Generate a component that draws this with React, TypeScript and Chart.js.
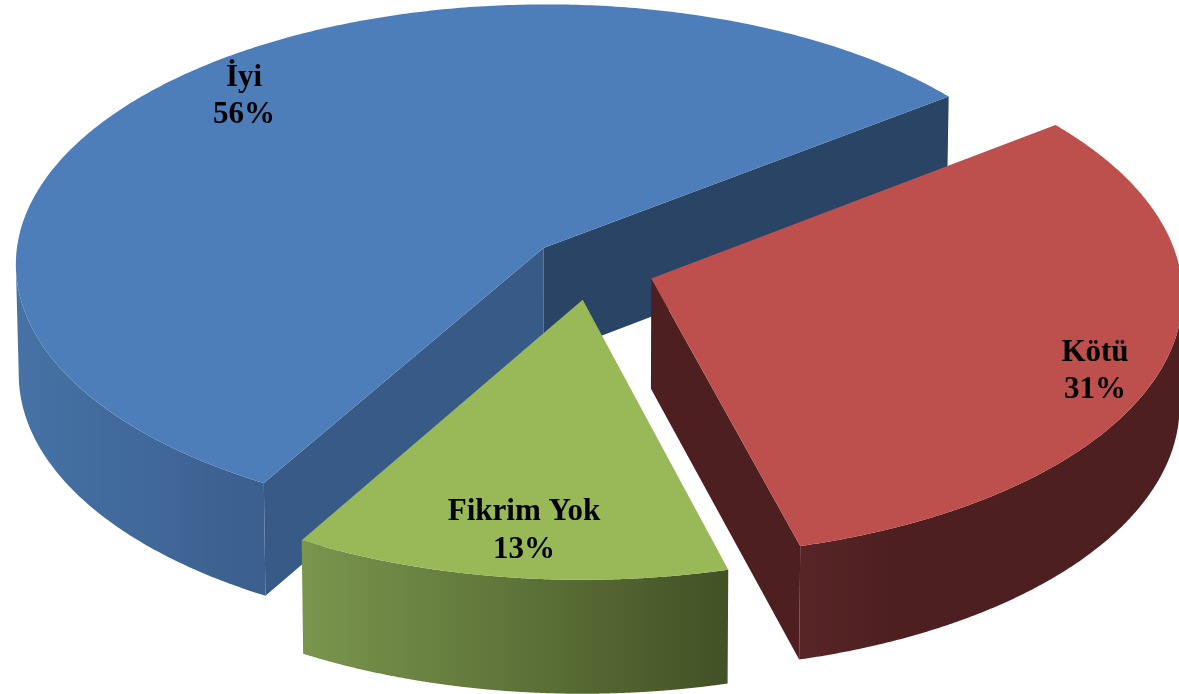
import React, { useEffect, useRef } from "react";
import { Chart, registerables } from "chart.js";

Chart.register(...registerables);

const categories = ["İyi", "Kötü", "Fikrim Yok"];
const shares = [56.25, 31.25, 12.5];
const shareLabels = ["56%", "31%", "13%"];
const topColors = ["#4e7eb9", "#bd4f4c", "#99b858"];
const rimGradients = [
  ["#4672a5", "#3b5f8e"],
  ["#582527", "#4d1f20", "#4d1f20", "#4d1f20", "#4d1f20"],
  ["#7a964d", "#425125"],
];
const startCutColors = ["#385a87", null, null];
const endCutColors = ["#2a4466", "#4d1f20", null];
const labelCenters = [
  [244, 78, 115],
  [1095, 353, 390],
  [524, 512, 550],
];

const WIDTH = 1179;
const HEIGHT = 694;
const CENTER_X = 591;
const CENTER_Y = 283.7;
const AXIS_X = 529;
const AXIS_Y = 261;
const TILT = 0.058;
const EXPLODE = 0.12;
const LABEL_FONT = "bold 31px 'Liberation Serif'";

// Perspective view of the pie's plane, applied to the arc elements' own angles.
function project(el: any, angle: number, r: number, lower: boolean) {
  const mid = (el.startAngle + el.endAngle) / 2;
  const u = Math.cos(mid) * EXPLODE + r * Math.cos(angle);
  const v = Math.sin(mid) * EXPLODE + r * Math.sin(angle);
  const w = 1 - TILT * v;
  let x = CENTER_X + (AXIS_X * u) / w;
  let y = CENTER_Y + (AXIS_Y * (v - TILT)) / w;
  if (lower) {
    x += (CENTER_X - x) * 0.005;
    y += 110 + 3.5 * v;
  }
  return [x, y];
}

function fillPoly(ctx: CanvasRenderingContext2D, pts: number[][], fill: any) {
  ctx.beginPath();
  pts.forEach((p, i) => (i ? ctx.lineTo(p[0], p[1]) : ctx.moveTo(p[0], p[1])));
  ctx.closePath();
  ctx.fillStyle = fill;
  ctx.fill();
}

const STEPS = 360;
const SILHOUETTE_SIN = 0.062;

const pie3d = {
  id: "pie3d",
  beforeDatasetsDraw(chart: any) {
    const ctx: CanvasRenderingContext2D = chart.ctx;
    const arcs = chart.getDatasetMeta(0).data;
    [0, 2, 1].forEach((i) => {
      const el = arcs[i];
      const cut = (angle: number, color: string | null) => {
        if (!color) return;
        fillPoly(
          ctx,
          [
            project(el, angle, 0, false),
            project(el, angle, 1, false),
            project(el, angle, 1, true),
            project(el, angle, 0, true),
          ],
          color
        );
      };
      cut(el.startAngle, startCutColors[i]);
      cut(el.endAngle, endCutColors[i]);
      const top: number[][] = [];
      const bottom: number[][] = [];
      for (let s = 0; s <= STEPS; s++) {
        const angle = el.startAngle + ((el.endAngle - el.startAngle) * s) / STEPS;
        if (Math.sin(angle) < SILHOUETTE_SIN) continue;
        top.push(project(el, angle, 1, false));
        bottom.push(project(el, angle, 1, true));
      }
      if (top.length > 1) {
        const xs = top.map((p) => p[0]);
        const g = ctx.createLinearGradient(Math.min(...xs), 0, Math.max(...xs), 0);
        const stops = rimGradients[i];
        stops.forEach((c, k) => g.addColorStop(k / (stops.length - 1), c));
        fillPoly(ctx, [...top, ...bottom.reverse()], g);
      }
    });
    arcs.forEach((el: any) => {
      const pts: number[][] = [project(el, el.startAngle, 0, false)];
      for (let s = 0; s <= STEPS; s++) {
        const angle = el.startAngle + ((el.endAngle - el.startAngle) * s) / STEPS;
        pts.push(project(el, angle, 1, false));
      }
      fillPoly(ctx, pts, el.options.backgroundColor);
    });
    return false;
  },
  afterDraw(chart: any) {
    const ctx: CanvasRenderingContext2D = chart.ctx;
    ctx.save();
    ctx.fillStyle = "#000000";
    ctx.font = LABEL_FONT;
    ctx.textAlign = "center";
    ctx.textBaseline = "middle";
    categories.forEach((name, i) => {
      const [x, y1, y2] = labelCenters[i];
      ctx.fillText(name, x, y1);
      ctx.fillText(shareLabels[i], x, y2);
    });
    ctx.restore();
  },
};

export default function App() {
  const ref = useRef<HTMLCanvasElement>(null);
  useEffect(() => {
    document.body.style.margin = "0";
    document.body.style.background = "#ffffff";
    const chart = new Chart(ref.current as HTMLCanvasElement, {
      type: "pie",
      data: {
        labels: categories,
        datasets: [
          {
            data: shares,
            backgroundColor: topColors,
            borderWidth: 0,
          } as any,
        ],
      },
      options: {
        responsive: false,
        animation: false,
        rotation: 210,
        layout: { padding: 0 },
        plugins: { legend: { display: false }, tooltip: { enabled: false } },
      },
      plugins: [pie3d],
    });
    return () => chart.destroy();
  }, []);
  return (
    <canvas
      ref={ref}
      width={WIDTH}
      height={HEIGHT}
      style={{ display: "block", width: WIDTH, height: HEIGHT }}
    />
  );
}
